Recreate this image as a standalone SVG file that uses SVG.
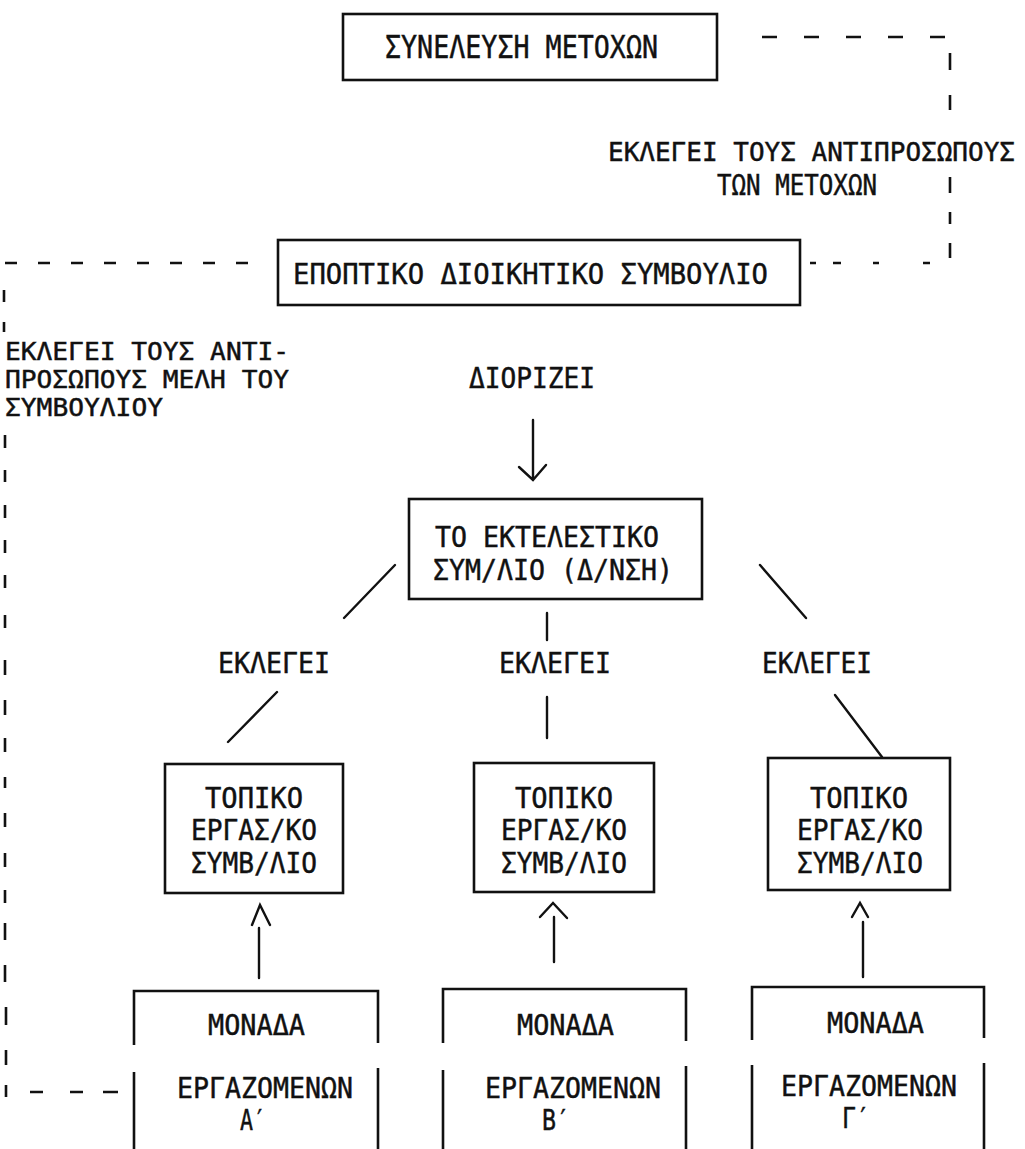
<svg xmlns="http://www.w3.org/2000/svg" width="1025" height="1149" viewBox="0 0 1025 1149">
<style>
.t{font-family:"DejaVu Sans Mono","Liberation Mono",monospace;font-size:28px;fill:#111;stroke:#111;stroke-width:0.45}
.b{fill:none;stroke:#111;stroke-width:2.6}
.c{fill:none;stroke:#111;stroke-width:2.4;stroke-linecap:round}
.d{fill:none;stroke:#111;stroke-width:2.6}
</style>
<rect width="1025" height="1149" fill="#fff"/>
<g id="connectors">
  <path class="d" d="M762,37H947" stroke-dasharray="15 27"/>
  <path class="d" d="M950,53V70M950,95V110M950,177V193M950,212V224M950,243V258"/>
  <path class="d" d="M810,263H816M833,263H841M873,263H879M923,263H930"/>
  <path class="d" d="M5,263H252" stroke-dasharray="12 21"/>
  <path class="d" d="M4,290V302M4,322V332M5,435V448M5,470V482M5,660V675M5,700V715M5,738V752M5,777V788M5,813V827M5,853V867"/>
  <path class="d" d="M5,505V518M5,540V553M5,575V588M5,615V628M5,890V903M5,923V940M5,965V982M6,1007V1025M6,1050V1065M6,1085V1097"/>
  <path class="d" d="M30,1092H43M70,1092H83M103,1092H118"/>
  <path class="c" d="M533,420V479M519,467L533,480L546,465"/>
  <path class="c" d="M395,565L344,618"/>
  <path class="c" d="M760,565L806,618"/>
  <path class="c" d="M547,613V640"/>
  <path class="c" d="M277,692L228,742"/>
  <path class="c" d="M547,697V738"/>
  <path class="c" d="M835,695L882,757"/>
  <path class="c" d="M259,928V978M252,925L260,905L270,925"/>
  <path class="c" d="M554,917V962M540,917L553,903L567,918"/>
  <path class="c" d="M863,922V977M852,917L860,903L868,917"/>
</g>
<g id="label-top">
  <text class="t" x="608" y="161" style="font-size:26px">ΕΚΛΕΓΕΙ ΤΟΥΣ ΑΝΤΙΠΡΟΣΩΠΟΥΣ</text>
  <text class="t" x="717" y="195" textLength="160" lengthAdjust="spacingAndGlyphs">ΤΩΝ ΜΕΤΟΧΩΝ</text>
</g>
<g id="label-left">
  <text class="t" x="5" y="360" style="font-size:24px" textLength="284" lengthAdjust="spacingAndGlyphs">ΕΚΛΕΓΕΙ ΤΟΥΣ ΑΝΤΙ-</text>
  <text class="t" x="5" y="388" style="font-size:24px" textLength="284" lengthAdjust="spacingAndGlyphs">ΠΡΟΣΩΠΟΥΣ ΜΕΛΗ ΤΟΥ</text>
  <text class="t" x="5" y="416" style="font-size:24px" textLength="158" lengthAdjust="spacingAndGlyphs">ΣΥΜΒΟΥΛΙΟΥ</text>
</g>
<g id="label-diorizei">
  <text class="t" x="469" y="388" textLength="126" lengthAdjust="spacingAndGlyphs">ΔΙΟΡΙΖΕΙ</text>
</g>
<g id="labels-eklegei">
  <text class="t" x="218" y="673" textLength="112" lengthAdjust="spacingAndGlyphs">ΕΚΛΕΓΕΙ</text>
  <text class="t" x="499" y="673" textLength="112" lengthAdjust="spacingAndGlyphs">ΕΚΛΕΓΕΙ</text>
  <text class="t" x="762" y="673" textLength="110" lengthAdjust="spacingAndGlyphs">ΕΚΛΕΓΕΙ</text>
</g>
<g id="node-synelefsi">
  <rect class="b" x="343" y="14" width="374" height="66"/>
  <text class="t" x="385" y="58" textLength="273" lengthAdjust="spacingAndGlyphs" style="font-size:31px">ΣΥΝΕΛΕΥΣΗ ΜΕΤΟΧΩΝ</text>
</g>
<g id="node-epoptiko">
  <rect class="b" x="278" y="240" width="522" height="65"/>
  <text class="t" x="293" y="284" textLength="475" lengthAdjust="spacingAndGlyphs">ΕΠΟΠΤΙΚΟ ΔΙΟΙΚΗΤΙΚΟ ΣΥΜΒΟΥΛΙΟ</text>
</g>
<g id="node-ektelestiko">
  <rect class="b" x="409" y="499" width="293" height="100"/>
  <text class="t" x="435" y="547" textLength="224" lengthAdjust="spacingAndGlyphs">ΤΟ ΕΚΤΕΛΕΣΤΙΚΟ</text>
  <text class="t" x="433" y="580" textLength="240" lengthAdjust="spacingAndGlyphs">ΣΥΜ/ΛΙΟ (Δ/ΝΣΗ)</text>
</g>
<g id="node-topiko-a">
  <rect class="b" x="165" y="764" width="178" height="129"/>
  <text class="t" x="205" y="808" textLength="98" lengthAdjust="spacingAndGlyphs">ΤΟΠΙΚΟ</text>
  <text class="t" x="191" y="840" textLength="126" lengthAdjust="spacingAndGlyphs">ΕΡΓΑΣ/ΚΟ</text>
  <text class="t" x="191" y="873" textLength="126" lengthAdjust="spacingAndGlyphs">ΣΥΜΒ/ΛΙΟ</text>
</g>
<g id="node-topiko-b">
  <rect class="b" x="474" y="763" width="180" height="129"/>
  <text class="t" x="515" y="808" textLength="98" lengthAdjust="spacingAndGlyphs">ΤΟΠΙΚΟ</text>
  <text class="t" x="501" y="840" textLength="126" lengthAdjust="spacingAndGlyphs">ΕΡΓΑΣ/ΚΟ</text>
  <text class="t" x="501" y="873" textLength="126" lengthAdjust="spacingAndGlyphs">ΣΥΜΒ/ΛΙΟ</text>
</g>
<g id="node-topiko-g">
  <rect class="b" x="768" y="758" width="182" height="132"/>
  <text class="t" x="810" y="808" textLength="98" lengthAdjust="spacingAndGlyphs">ΤΟΠΙΚΟ</text>
  <text class="t" x="797" y="840" textLength="126" lengthAdjust="spacingAndGlyphs">ΕΡΓΑΣ/ΚΟ</text>
  <text class="t" x="797" y="873" textLength="126" lengthAdjust="spacingAndGlyphs">ΣΥΜΒ/ΛΙΟ</text>
</g>
<g id="node-monada-a">
  <path class="b" d="M134,1045V991H378V1043M134,1072V1149M378,1068V1149"/>
  <text class="t" x="208" y="1035" textLength="97" lengthAdjust="spacingAndGlyphs">ΜΟΝΑΔΑ</text>
  <text class="t" x="177" y="1098" textLength="176" lengthAdjust="spacingAndGlyphs">ΕΡΓΑΖΟΜΕΝΩΝ</text>
  <text class="t" x="240" y="1130" textLength="26" lengthAdjust="spacingAndGlyphs">Α′</text>
</g>
<g id="node-monada-b">
  <path class="b" d="M443,1043V989H686V1041M443,1070V1149M686,1066V1149"/>
  <text class="t" x="517" y="1035" textLength="97" lengthAdjust="spacingAndGlyphs">ΜΟΝΑΔΑ</text>
  <text class="t" x="485" y="1098" textLength="176" lengthAdjust="spacingAndGlyphs">ΕΡΓΑΖΟΜΕΝΩΝ</text>
  <text class="t" x="542" y="1130" textLength="28" lengthAdjust="spacingAndGlyphs">Β′</text>
</g>
<g id="node-monada-g">
  <path class="b" d="M752,1040V987H984V1038M752,1065V1149M984,1063V1149"/>
  <text class="t" x="827" y="1033" textLength="97" lengthAdjust="spacingAndGlyphs">ΜΟΝΑΔΑ</text>
  <text class="t" x="781" y="1096" textLength="176" lengthAdjust="spacingAndGlyphs">ΕΡΓΑΖΟΜΕΝΩΝ</text>
  <text class="t" x="842" y="1128" textLength="28" lengthAdjust="spacingAndGlyphs">Γ′</text>
</g>
</svg>
